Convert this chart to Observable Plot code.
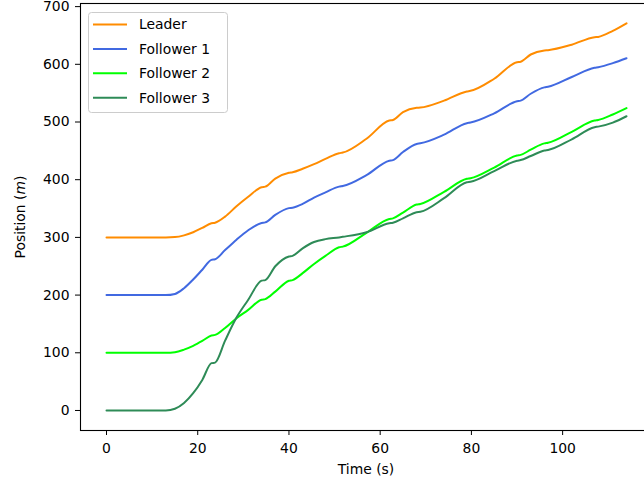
<!DOCTYPE html>
<html><head><meta charset="utf-8">
<script src="https://cdn.jsdelivr.net/npm/d3@7"></script>
<script src="https://cdn.jsdelivr.net/npm/@observablehq/plot@0.6"></script>
<style>
html,body{margin:0;padding:0;background:#fff;}
#wrap{width:644px;height:486px;overflow:hidden;position:relative;}
#wrap svg{max-width:none !important;}
</style></head><body><div id="wrap"></div>
<script>
const time      = [0, 13, 15, 17, 19, 21, 23, 23.8, 26, 28.5, 31, 34, 34.8, 37, 40, 40.8, 43, 45.5, 48, 51, 51.8, 57, 62, 62.8, 65, 68, 68.8, 74, 79, 79.8, 85, 90, 90.8, 93, 96, 96.8, 102, 107, 107.8, 111, 114];
const leader    = [300, 300, 300.5, 303.5, 309, 316.5, 324.6, 325.5, 336, 354, 370, 387, 388, 402, 412, 413, 419, 427, 436, 446, 447, 471, 502.6, 503.5, 517, 524.6, 525, 537, 553, 554, 575, 603.7, 604.5, 617, 624, 624.5, 634, 647, 647.5, 658, 671];
const follower1 = [200, 200, 202, 212, 227, 244, 261, 262, 278, 296, 312, 325, 326, 339, 350.7, 351.5, 358, 369, 378, 388, 389, 408, 433, 434, 448, 462, 463, 478, 498, 499, 515, 536, 537, 549, 560, 561, 578, 594, 595, 602, 610.6];
const follower2 = [100, 100, 101, 105.5, 112, 120.5, 130, 131, 143, 160, 174, 192, 193, 206, 225, 226, 238, 254, 268, 283, 284, 308, 332, 333, 343, 357, 358, 379, 401.5, 402.5, 421, 442, 443, 452, 463, 464, 483, 502.6, 503.5, 513, 524];
const follower3 = [0, 0, 3, 13, 30, 53, 82, 83, 121, 161, 191, 225, 226, 250, 267, 268, 281, 292, 297, 300, 301, 309, 324.6, 325.5, 333, 343.7, 344.5, 368, 395.7, 396.5, 415, 433, 434, 441, 450.6, 451.5, 470, 491, 492, 499, 510];
const seriesNames  = ["Leader", "Follower 1", "Follower 2", "Follower 3"];
const seriesColors = ["#ff8c00", "#4169e1", "#00ff00", "#2e8b57"];
const xTicks = [0, 20, 40, 60, 80, 100];
const yTicks = [0, 100, 200, 300, 400, 500, 600, 700];

const rows = [];
[leader, follower1, follower2, follower3].forEach((arr, i) =>
  arr.forEach((v, j) => rows.push({t: time[j], v, s: seriesNames[i]})));

const chart = Plot.plot({
  width: 652, height: 486,
  marginLeft: 80, marginRight: 0, marginTop: 3, marginBottom: 56,
  style: {fontFamily: "DejaVu Sans", fontSize: "13.9px", background: "#fff", color: "#000", overflow: "visible", maxWidth: "none"},
  x: {domain: [-5.7, 119.7], ticks: xTicks, tickSize: 5, tickPadding: 8, label: null},
  y: {domain: [-34.7, 705.4], ticks: yTicks, tickSize: 5, tickPadding: 6, label: null},
  color: {domain: seriesNames, range: seriesColors},
  marks: [
    Plot.line(rows, {x: "t", y: "v", z: "s", stroke: "s", strokeWidth: 2, curve: "monotone-x"}),
    Plot.frame({stroke: "#000", strokeWidth: 1.1})
  ]
});

const svg = d3.select(chart);
svg.append("text").attr("x", 366).attr("y", 474).attr("text-anchor", "middle")
  .attr("fill", "#000").text("Time (s)");
const yl = svg.append("text").attr("transform", "translate(25,217) rotate(-90)")
  .attr("text-anchor", "middle").attr("fill", "#000");
yl.append("tspan").text("Position (");
yl.append("tspan").attr("font-style", "italic").text("m");
yl.append("tspan").text(")");

const lg = svg.append("g");
lg.append("rect").attr("x", 88.5).attr("y", 12.5).attr("width", 139).attr("height", 100)
  .attr("rx", 3).attr("fill", "rgba(255,255,255,0.8)").attr("stroke", "#cccccc");
seriesNames.forEach((n, i) => {
  const y = 24.5 + i * 24.4;
  lg.append("line").attr("x1", 93).attr("x2", 127).attr("y1", y).attr("y2", y)
    .attr("stroke", seriesColors[i]).attr("stroke-width", 2);
  lg.append("text").attr("x", 139).attr("y", y).attr("dy", "0.35em")
    .attr("text-anchor", "start").attr("fill", "#000").text(n);
});

document.getElementById("wrap").appendChild(chart);
</script></body></html>
